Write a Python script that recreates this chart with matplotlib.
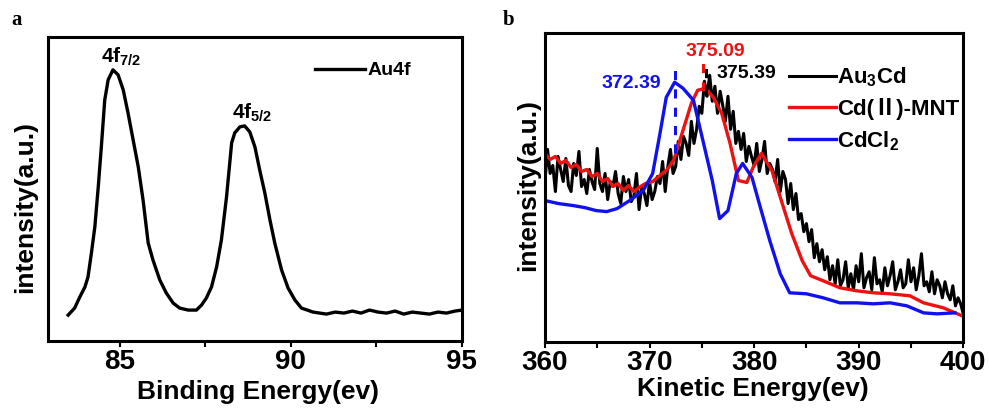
import matplotlib.pyplot as plt
import numpy as np

plt.rcParams['font.family'] = ['Liberation Sans', 'DejaVu Sans']
plt.rcParams['font.weight'] = 'bold'
plt.rcParams['mathtext.fontset'] = 'custom'
plt.rcParams['mathtext.rm'] = 'Liberation Sans:bold'
plt.rcParams['mathtext.it'] = 'Liberation Sans:bold'
plt.rcParams['mathtext.bf'] = 'Liberation Sans:bold'

# Au4f spectrum (binding energy, intensity a.u.)
be_au4f = [83.49, 83.68, 83.83, 83.98, 84.07, 84.17, 84.27, 84.37, 84.46, 84.56,
           84.66, 84.80, 84.95, 85.10, 85.24, 85.39, 85.54, 85.68, 85.83, 85.97,
           86.17, 86.36, 86.56, 86.75, 87.00, 87.24, 87.39, 87.53, 87.68, 87.83,
           87.97, 88.12, 88.27, 88.36, 88.51, 88.65, 88.80, 88.95, 89.09, 89.24,
           89.39, 89.53, 89.73, 89.92, 90.12, 90.31, 90.65, 91.04, 91.30, 91.55,
           91.80, 92.05, 92.30, 92.55, 92.80, 93.05, 93.30, 93.55, 93.80, 94.05,
           94.30, 94.55, 94.80, 95.00]
int_au4f = [26, 33, 44, 54, 64, 88, 114, 154, 194, 241,
            261, 271, 266, 251, 228, 201, 174, 141, 98, 81,
            61, 48, 38, 33, 31, 31, 36, 43, 54, 74,
            101, 144, 198, 208, 214, 215, 209, 194, 171, 148,
            121, 98, 71, 53, 41, 33, 29, 27, 29, 28,
            30, 28, 31, 29, 28, 30, 27, 29, 28, 27,
            29, 28, 30, 31]

# Cd Auger spectra (kinetic energy, intensity a.u.)
ke_au3cd = np.arange(360, 400.01, 0.25)
int_au3cd = [160, 192, 168, 176, 150, 185, 172, 160, 183, 156, 150, 178,
             166, 190, 155, 162, 148, 172, 160, 152, 193, 158, 150, 168,
             142, 160, 155, 170, 148, 138, 165, 150, 162, 140, 145, 168,
             132, 155, 148, 136, 160, 142, 150, 165, 158, 180, 150, 175,
             192, 168, 175, 200, 182, 205, 198, 186, 220, 198, 212, 235,
             228, 260, 245, 266, 240, 255, 228, 250, 236, 220, 245, 212,
             230, 198, 210, 192, 208, 180, 195, 185, 176, 198, 170, 182,
             200, 168, 178, 172, 160, 182, 150, 170, 162, 138, 158, 132,
             148, 122, 128, 110, 118, 100, 112, 84, 98, 80, 92, 72,
             85, 62, 76, 58, 82, 56, 62, 80, 54, 68, 52, 76,
             60, 88, 54, 64, 70, 52, 84, 58, 62, 50, 74, 56,
             66, 80, 52, 60, 72, 54, 58, 82, 60, 74, 52, 66,
             88, 56, 60, 50, 70, 48, 62, 56, 44, 60, 48, 42,
             56, 36, 44, 38, 28]

ke_mnt = [360.0, 360.5, 361.0, 361.5, 362.0, 362.5, 363.0, 363.5, 364.0, 364.5,
          365.0, 365.5, 366.0, 366.5, 367.0, 367.5, 368.0, 368.5, 369.0, 369.6,
          370.3, 371.0, 371.7, 372.3, 373.2, 374.0, 374.6, 375.3, 376.1, 376.9,
          377.7, 378.5, 379.3, 379.9, 380.7, 381.7, 382.6, 383.6, 384.6, 385.4,
          386.6, 388.2, 389.8, 391.4, 393.0, 394.9, 396.2, 398.1, 399.9]
int_mnt = [188, 182, 185, 178, 181, 174, 177, 170, 172, 165,
           168, 160, 163, 155, 158, 151, 156, 150, 154, 158,
           160, 166, 172, 181, 211, 238, 251, 253, 244, 228,
           198, 161, 159, 174, 188, 171, 141, 108, 81, 66,
           61, 54, 51, 49, 48, 46, 39, 34, 26]

ke_cdcl2 = [360.0, 361.3, 362.7, 363.8, 364.9, 365.9, 366.9, 368.1, 369.4, 370.3,
            371.0, 371.6, 372.4, 373.2, 374.2, 375.1, 376.0, 376.7, 377.5, 378.3,
            378.9, 379.8, 380.6, 381.5, 382.5, 383.4, 385.0, 386.6, 388.2, 389.8,
            391.4, 393.0, 394.6, 396.2, 397.5, 399.2]
int_cdcl2 = [141, 138, 136, 134, 131, 130, 133, 141, 151, 168,
             208, 244, 259, 253, 241, 201, 161, 123, 131, 168,
             178, 164, 134, 101, 68, 49, 48, 44, 39, 39,
             38, 39, 36, 29, 28, 29]

fig = plt.figure(figsize=(9.89, 4.09), dpi=100)

# --- panel a ---
ax1 = fig.add_axes([0.0485, 0.166, 0.4185, 0.744])
ax1.plot(be_au4f, int_au4f, color='black', lw=2.4, label='Au4f')
ax1.set_xlim(82.9, 95)
ax1.set_ylim(0, 304)
ax1.set_xticks([85, 90, 95])
ax1.set_xticks([87.5, 92.5], minor=True)
ax1.set_yticks([])
ax1.set_xlabel('Binding Energy(ev)', fontsize=19, fontweight='bold')
ax1.set_ylabel('intensity(a.u.)', fontsize=19, fontweight='bold')
ax1.xaxis.set_label_coords(0.507, -0.168)
ax1.yaxis.set_label_coords(-0.056, 0.44)
ax1.text(85.05, 284, r'4f$_{7/2}$', fontsize=15, ha='center', va='center')
ax1.text(88.86, 228, r'4f$_{5/2}$', fontsize=15, ha='center', va='center')
ax1.legend(loc='upper left', bbox_to_anchor=(0.645, 0.918), frameon=False, fontsize=14,
           borderpad=0, borderaxespad=0, handlelength=2.6, handletextpad=0.1)

# --- panel b ---
ax2 = fig.add_axes([0.551, 0.164, 0.423, 0.755])
ax2.plot(ke_au3cd, int_au3cd, color='black', lw=2.2, label='Au$_3$Cd')
ax2.plot(ke_mnt, int_mnt, color='#ee1111', lw=2.4, label='Cd(Ⅱ)-MNT')
ax2.plot(ke_cdcl2, int_cdcl2, color='#1111ee', lw=2.4, label='CdCl$_2$')
ax2.set_xlim(360, 400)
ax2.set_ylim(0, 308)
ax2.set_xticks([360, 370, 380, 390, 400])
ax2.set_xticks([365, 375, 385, 395], minor=True)
ax2.set_yticks([])
ax2.set_xlabel('Kinetic Energy(ev)', fontsize=19, fontweight='bold')
ax2.set_ylabel('intensity(a.u.)', fontsize=19, fontweight='bold')
ax2.xaxis.set_label_coords(0.498, -0.152)
ax2.yaxis.set_label_coords(-0.041, 0.508)

# peak positions
ax2.plot([372.39, 372.39], [188, 278], color='#1111ee', lw=2.2, ls=(0, (3, 3)))
ax2.plot([375.09, 375.09], [250, 282], color='#ee1111', lw=2.2, ls=(0, (3, 3)))
ax2.plot([375.39, 375.39], [245, 278], color='black', lw=2.2, ls=(0, (3, 3)))
ax2.text(368.3, 258, '372.39', color='#1111ee', fontsize=14, ha='center', va='center')
ax2.text(376.3, 290, '375.09', color='#ee1111', fontsize=14, ha='center', va='center')
ax2.text(379.3, 268, '375.39', color='black', fontsize=14, ha='center', va='center')
ax2.legend(loc='upper left', bbox_to_anchor=(0.584, 0.895), frameon=False,
           prop={'family': ['Liberation Sans', 'Noto Sans CJK SC'], 'weight': 'bold', 'size': 16},
           borderpad=0, borderaxespad=0, handlelength=2.1, handletextpad=0.05, labelspacing=0.4)

for ax in (ax1, ax2):
    for s in ax.spines.values():
        s.set_linewidth(2.2)
    ax.tick_params(axis='x', which='both', direction='out', width=1.5, labelsize=20, pad=2, length=4)
    ax.xaxis.label.set_va('center')
    ax.yaxis.label.set_va('center')
    for lbl in ax.get_xticklabels():
        lbl.set_fontweight('bold')

fig.text(0.012, 0.94, 'a', fontsize=15, fontweight='bold', family='Liberation Serif')
fig.text(0.508, 0.94, 'b', fontsize=15, fontweight='bold', family='Liberation Serif')

fig.savefig('out.png', dpi=100)
